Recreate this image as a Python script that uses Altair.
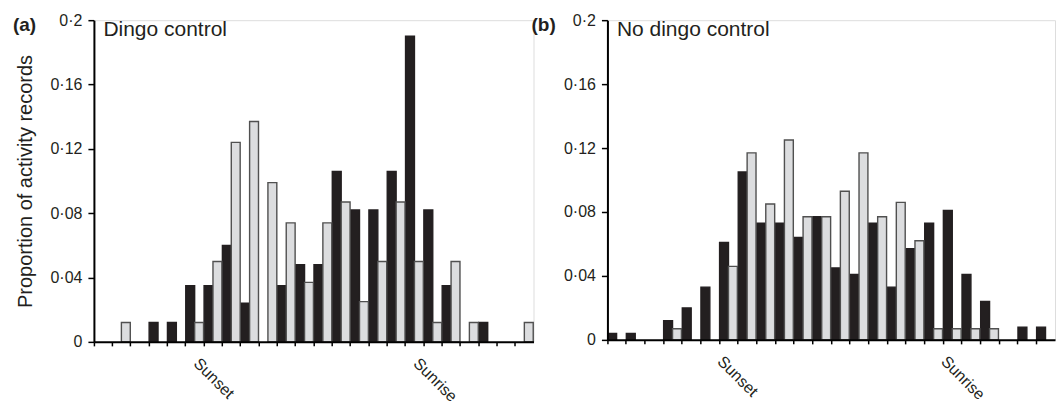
import altair as alt
import pandas as pd

FONT = "Liberation Sans"
INK = "#231f20"

slots = list(range(24))
series_names = ["black", "grey"]

a_black = [0, 0, 0, 0.012, 0.012, 0.035, 0.035, 0.06, 0.024, 0, 0.035, 0.048,
           0.048, 0.106, 0.082, 0.082, 0.106, 0.19, 0.082, 0.035, 0, 0.012, 0, 0]
a_grey = [0, 0.012, 0, 0, 0, 0.012, 0.05, 0.124, 0.137, 0.099, 0.074, 0.037,
          0.074, 0.087, 0.025, 0.05, 0.087, 0.05, 0.012, 0.05, 0.012, 0, 0, 0.012]

b_black = [0.004, 0.004, 0, 0.012, 0.02, 0.033, 0.061, 0.105, 0.073, 0.073, 0.064, 0.077,
           0.045, 0.041, 0.073, 0.033, 0.057, 0.073, 0.081, 0.041, 0.024, 0, 0.008, 0.008]
b_grey = [0, 0, 0, 0.007, 0, 0, 0.046, 0.117, 0.085, 0.125, 0.077, 0.077,
          0.093, 0.117, 0.077, 0.086, 0.062, 0.007, 0.007, 0.007, 0.007, 0, 0, 0]

y_ticks = [0, 0.04, 0.08, 0.12, 0.16, 0.2]
panel_letters = ["(a)", "(b)"]
panel_names = ["Dingo control", "No dingo control"]
y_title = "Proportion of activity records"
x_label_expr = "datum.value == 6 ? 'Sunset' : datum.value == 18 ? 'Sunrise' : ''"
y_label_expr = "datum.value == 0 ? '0' : replace(format(datum.value, '.2~f'), '.', '·')"


def panel(black, grey, letter, name, width, height, show_title, letter_x, label_offset):
    df = pd.DataFrame({
        "slot": slots * 2,
        "series": ["black"] * len(slots) + ["grey"] * len(slots),
        "value": black + grey,
    })
    yaxis_kwargs = dict(values=y_ticks, labelExpr=y_label_expr, grid=False, tickSize=6,
                        labelPadding=6, domain=True, ticks=True, domainColor="black",
                        tickColor="black", domainWidth=2, tickWidth=1.5, zindex=1)
    if show_title:
        yaxis_kwargs.update(title=y_title, titleFontSize=20, titleFont=FONT,
                            titleFontWeight="normal", titleColor=INK, titlePadding=14)
    else:
        yaxis_kwargs.update(title=None)

    bars = alt.Chart(df).transform_filter("datum.value > 0").mark_bar(strokeWidth=1.4).encode(
        x=alt.X("slot:O",
                scale=alt.Scale(domain=slots, paddingInner=0, paddingOuter=0),
                axis=alt.Axis(title=name, titleX=9, titleY=15 - height,
                              titleAngle=0, titleAlign="left", titleBaseline="alphabetic",
                              titleFontSize=21, titleFontWeight="normal", titleFont=FONT,
                              titleColor=INK,
                              bandPosition=0, labelExpr=x_label_expr,
                              labelAngle=45, labelAlign="left", labelBaseline="top",
                              tickSize=4, labelPadding=9, domain=True, ticks=True,
                              domainColor="black", tickColor="black", domainWidth=2,
                              tickWidth=1.5, labelOffset=label_offset, labelOverlap=False,
                              zindex=1)),
        xOffset=alt.XOffset("series:N",
                            scale=alt.Scale(domain=series_names, paddingInner=0, paddingOuter=0.03)),
        y=alt.Y("value:Q", scale=alt.Scale(domain=[0, 0.2]), axis=alt.Axis(**yaxis_kwargs)),
        color=alt.Color("series:N", scale=alt.Scale(domain=series_names, range=[INK, "#dcdddf"]),
                        legend=alt.Legend(orient="none", legendX=letter_x, legendY=-4,
                                          title=letter, titleFontSize=19, titleFontWeight="bold",
                                          titleFont=FONT, titleColor=INK, titlePadding=0,
                                          labelExpr="''", symbolOpacity=0, symbolSize=1,
                                          symbolStrokeWidth=0, rowPadding=0, padding=0,
                                          labelFontSize=1)),
        stroke=alt.Stroke("series:N", scale=alt.Scale(domain=series_names, range=[INK, "#505050"]),
                          legend=None),
    ).properties(width=width, height=height)
    return bars


pa = panel(a_black, a_grey, panel_letters[0], panel_names[0], 440, 322, True, -81, -11)
pb = panel(b_black, b_grey, panel_letters[1], panel_names[1], 448, 320, False, -76, -3)

chart = alt.hconcat(pa, pb, spacing=74, bounds="flush").resolve_scale(
    color="independent", stroke="independent"
).resolve_legend(color="independent").properties(
    padding={"left": 4, "top": 3, "right": 0, "bottom": 0}
).configure_view(strokeWidth=0).configure(font=FONT).configure_axis(
    labelFontSize=16, labelColor=INK, labelFont=FONT
)

chart.save("out.html", embed_options={"renderer": "svg", "actions": False})
